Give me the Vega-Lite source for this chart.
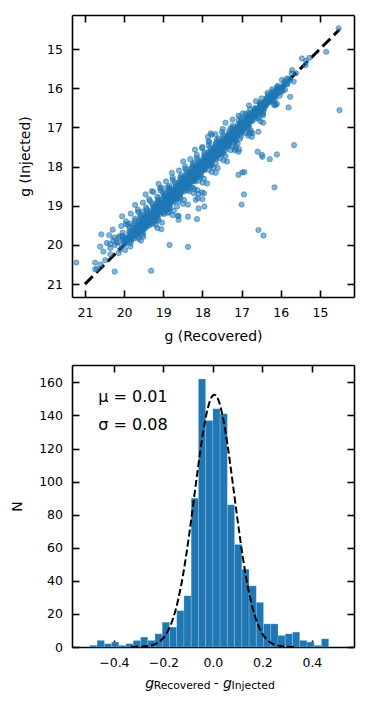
{
"$schema": "https://vega.github.io/schema/vega-lite/v6.json",
"background": "white",
"padding": {"left": 10, "top": 14, "right": 14, "bottom": 5},
"spacing": 20,
"config": {
  "font": "DejaVu Sans",
  "view": {"stroke": null},
  "axis": {"grid": false, "domainColor": "black", "domainWidth": 1.6, "tickColor": "black", "tickWidth": 1.6, "tickSize": -7, "labelFontSize": 12.5, "labelColor": "black", "titleFontSize": 14, "titleFontWeight": "normal", "titleColor": "black"},
  "axisX": {"labelPadding": 16, "titlePadding": 11},
  "axisY": {"labelPadding": 16.5, "titlePadding": 14}
},
"datasets": {
"sc": [
{"r":15.78,"i":15.76},{"r":15.76,"i":15.79},{"r":15.89,"i":15.81},{"r":15.83,"i":15.84},{"r":15.90,"i":15.86},{"r":15.83,"i":15.89},{"r":15.93,"i":15.91},{"r":16.07,"i":15.94},{"r":15.94,"i":15.96},{"r":15.99,"i":15.99},
{"r":16.08,"i":16.01},{"r":15.97,"i":16.02},{"r":16.05,"i":16.04},{"r":15.95,"i":16.05},{"r":16.11,"i":16.07},{"r":16.21,"i":16.08},{"r":16.08,"i":16.10},{"r":16.03,"i":16.11},{"r":16.34,"i":16.12},{"r":16.19,"i":16.14},{"r":16.11,"i":16.15},{"r":16.19,"i":16.17},{"r":16.26,"i":16.18},{"r":16.03,"i":16.19},{"r":16.20,"i":16.21},{"r":16.25,"i":16.22},{"r":16.34,"i":16.23},{"r":16.18,"i":16.24},
{"r":16.25,"i":16.25},{"r":16.49,"i":16.26},{"r":16.23,"i":16.27},{"r":16.35,"i":16.28},{"r":16.15,"i":16.29},{"r":16.31,"i":16.30},{"r":16.23,"i":16.31},{"r":16.37,"i":16.32},{"r":16.63,"i":16.33},{"r":16.32,"i":16.34},{"r":16.43,"i":16.35},{"r":16.30,"i":16.36},{"r":16.54,"i":16.37},{"r":16.40,"i":16.38},{"r":16.16,"i":16.39},{"r":16.39,"i":16.40},{"r":16.52,"i":16.41},{"r":16.46,"i":16.42},{"r":16.13,"i":16.43},{"r":16.81,"i":16.44},{"r":16.40,"i":16.45},{"r":16.53,"i":16.46},{"r":16.49,"i":16.47},{"r":16.44,"i":16.49},
{"r":16.65,"i":16.50},{"r":16.49,"i":16.51},{"r":16.60,"i":16.52},{"r":16.42,"i":16.53},{"r":16.59,"i":16.54},{"r":16.78,"i":16.54},{"r":16.50,"i":16.55},{"r":16.56,"i":16.56},{"r":16.68,"i":16.57},{"r":16.50,"i":16.58},{"r":16.61,"i":16.59},{"r":16.45,"i":16.60},{"r":16.67,"i":16.61},{"r":16.82,"i":16.62},{"r":16.59,"i":16.62},{"r":16.51,"i":16.63},{"r":16.97,"i":16.64},{"r":16.73,"i":16.65},{"r":16.60,"i":16.66},{"r":16.70,"i":16.67},{"r":16.80,"i":16.68},{"r":16.45,"i":16.69},{"r":16.68,"i":16.70},{"r":16.75,"i":16.70},{"r":16.88,"i":16.71},{"r":16.63,"i":16.72},{"r":16.73,"i":16.73},{"r":17.03,"i":16.74},
{"r":16.70,"i":16.75},{"r":16.86,"i":16.76},{"r":16.57,"i":16.77},{"r":16.79,"i":16.77},{"r":16.66,"i":16.78},{"r":16.86,"i":16.79},{"r":17.23,"i":16.80},{"r":16.77,"i":16.80},{"r":16.93,"i":16.81},{"r":16.73,"i":16.82},{"r":17.07,"i":16.83},{"r":16.87,"i":16.84},{"r":16.52,"i":16.84},{"r":16.83,"i":16.85},{"r":17.01,"i":16.86},{"r":16.92,"i":16.87},{"r":16.45,"i":16.88},{"r":17.41,"i":16.88},{"r":16.82,"i":16.89},{"r":17.00,"i":16.90},{"r":16.94,"i":16.91},{"r":16.84,"i":16.91},{"r":17.09,"i":16.92},{"r":16.91,"i":16.93},{"r":17.03,"i":16.94},{"r":16.83,"i":16.95},{"r":17.00,"i":16.95},{"r":17.23,"i":16.96},{"r":16.92,"i":16.97},{"r":16.98,"i":16.98},{"r":17.10,"i":16.98},{"r":16.90,"i":16.99},
{"r":17.02,"i":17.00},{"r":16.81,"i":17.01},{"r":17.09,"i":17.01},{"r":17.28,"i":17.02},{"r":16.99,"i":17.03},{"r":16.87,"i":17.03},{"r":17.48,"i":17.04},{"r":17.15,"i":17.05},{"r":16.98,"i":17.06},{"r":17.10,"i":17.06},{"r":17.23,"i":17.07},{"r":16.76,"i":17.08},{"r":17.06,"i":17.08},{"r":17.15,"i":17.09},{"r":17.32,"i":17.10},{"r":16.98,"i":17.10},{"r":17.11,"i":17.11},{"r":17.50,"i":17.12},{"r":17.06,"i":17.12},{"r":17.25,"i":17.13},{"r":16.90,"i":17.14},{"r":17.17,"i":17.15},{"r":17.01,"i":17.15},{"r":17.24,"i":17.16},{"r":17.67,"i":17.17},{"r":17.13,"i":17.17},{"r":17.32,"i":17.18},{"r":17.09,"i":17.19},{"r":17.47,"i":17.19},{"r":17.24,"i":17.20},{"r":16.83,"i":17.21},{"r":17.19,"i":17.21},{"r":17.40,"i":17.22},{"r":17.29,"i":17.23},{"r":16.74,"i":17.24},{"r":17.86,"i":17.24},
{"r":17.17,"i":17.25},{"r":17.38,"i":17.26},{"r":17.30,"i":17.26},{"r":17.19,"i":17.27},{"r":17.48,"i":17.28},{"r":17.26,"i":17.28},{"r":17.39,"i":17.29},{"r":17.16,"i":17.30},{"r":17.36,"i":17.30},{"r":17.63,"i":17.31},{"r":17.26,"i":17.32},{"r":17.32,"i":17.32},{"r":17.47,"i":17.33},{"r":17.24,"i":17.34},{"r":17.36,"i":17.34},{"r":17.15,"i":17.35},{"r":17.44,"i":17.36},{"r":17.62,"i":17.36},{"r":17.33,"i":17.37},{"r":17.22,"i":17.38},{"r":17.82,"i":17.38},{"r":17.49,"i":17.39},{"r":17.32,"i":17.40},{"r":17.44,"i":17.40},{"r":17.57,"i":17.41},{"r":17.10,"i":17.42},{"r":17.40,"i":17.42},{"r":17.49,"i":17.43},{"r":17.66,"i":17.44},{"r":17.32,"i":17.44},{"r":17.45,"i":17.45},{"r":17.84,"i":17.46},{"r":17.40,"i":17.46},{"r":17.59,"i":17.47},{"r":17.24,"i":17.48},{"r":17.50,"i":17.48},{"r":17.35,"i":17.49},{"r":17.57,"i":17.49},
{"r":18.00,"i":17.50},{"r":17.47,"i":17.51},{"r":17.65,"i":17.51},{"r":17.42,"i":17.52},{"r":17.80,"i":17.52},{"r":17.57,"i":17.53},{"r":17.16,"i":17.54},{"r":17.52,"i":17.54},{"r":17.73,"i":17.55},{"r":17.62,"i":17.56},{"r":17.06,"i":17.56},{"r":18.19,"i":17.57},{"r":17.49,"i":17.57},{"r":17.70,"i":17.58},{"r":17.63,"i":17.59},{"r":17.51,"i":17.59},{"r":17.80,"i":17.60},{"r":17.59,"i":17.61},{"r":17.71,"i":17.61},{"r":17.48,"i":17.62},{"r":17.68,"i":17.62},{"r":17.95,"i":17.63},{"r":17.58,"i":17.64},{"r":17.64,"i":17.64},{"r":17.79,"i":17.65},{"r":17.56,"i":17.66},{"r":17.68,"i":17.66},{"r":17.47,"i":17.67},{"r":17.75,"i":17.67},{"r":17.94,"i":17.68},{"r":17.65,"i":17.69},{"r":17.53,"i":17.69},{"r":18.14,"i":17.70},{"r":17.81,"i":17.71},{"r":17.63,"i":17.71},{"r":17.76,"i":17.72},{"r":17.88,"i":17.72},{"r":17.41,"i":17.73},{"r":17.72,"i":17.74},{"r":17.80,"i":17.74},
{"r":17.97,"i":17.75},{"r":17.64,"i":17.76},{"r":17.76,"i":17.76},{"r":18.15,"i":17.77},{"r":17.71,"i":17.77},{"r":17.90,"i":17.78},{"r":17.55,"i":17.79},{"r":17.81,"i":17.79},{"r":17.66,"i":17.80},{"r":17.88,"i":17.80},{"r":18.31,"i":17.81},{"r":17.77,"i":17.81},{"r":17.96,"i":17.82},{"r":17.73,"i":17.83},{"r":18.11,"i":17.83},{"r":17.88,"i":17.84},{"r":17.46,"i":17.84},{"r":17.83,"i":17.85},{"r":18.04,"i":17.86},{"r":17.92,"i":17.86},{"r":17.37,"i":17.87},{"r":18.49,"i":17.87},{"r":17.80,"i":17.88},{"r":18.01,"i":17.89},{"r":17.93,"i":17.89},{"r":17.82,"i":17.90},{"r":18.10,"i":17.90},{"r":17.89,"i":17.91},{"r":18.01,"i":17.91},{"r":17.78,"i":17.92},{"r":17.99,"i":17.93},{"r":18.25,"i":17.93},{"r":17.88,"i":17.94},{"r":17.94,"i":17.94},{"r":18.09,"i":17.95},{"r":17.86,"i":17.96},{"r":17.98,"i":17.96},{"r":17.77,"i":17.97},{"r":18.05,"i":17.97},{"r":18.24,"i":17.98},{"r":17.94,"i":17.98},{"r":17.83,"i":17.99},
{"r":18.44,"i":18.00},{"r":18.11,"i":18.01},{"r":17.93,"i":18.01},{"r":18.06,"i":18.02},{"r":18.18,"i":18.02},{"r":17.71,"i":18.03},{"r":18.01,"i":18.03},{"r":18.10,"i":18.04},{"r":18.27,"i":18.05},{"r":17.93,"i":18.05},{"r":18.06,"i":18.06},{"r":18.44,"i":18.06},{"r":18.01,"i":18.07},{"r":18.19,"i":18.07},{"r":17.84,"i":18.08},{"r":18.11,"i":18.09},{"r":17.95,"i":18.09},{"r":18.18,"i":18.10},{"r":18.60,"i":18.10},{"r":18.07,"i":18.11},{"r":18.25,"i":18.11},{"r":18.02,"i":18.12},{"r":18.41,"i":18.13},{"r":18.17,"i":18.13},{"r":17.76,"i":18.14},{"r":18.12,"i":18.14},{"r":18.33,"i":18.15},{"r":18.21,"i":18.15},{"r":17.66,"i":18.16},{"r":18.78,"i":18.16},{"r":18.09,"i":18.17},{"r":18.30,"i":18.18},{"r":18.22,"i":18.18},{"r":18.11,"i":18.19},{"r":18.39,"i":18.19},{"r":18.18,"i":18.20},{"r":18.30,"i":18.20},{"r":18.07,"i":18.21},{"r":18.28,"i":18.22},{"r":18.54,"i":18.22},{"r":18.17,"i":18.23},{"r":18.23,"i":18.23},{"r":18.38,"i":18.24},{"r":18.14,"i":18.24},
{"r":18.27,"i":18.25},{"r":18.04,"i":18.26},{"r":18.35,"i":18.26},{"r":18.56,"i":18.27},{"r":18.23,"i":18.27},{"r":18.10,"i":18.28},{"r":18.76,"i":18.28},{"r":18.40,"i":18.29},{"r":18.20,"i":18.29},{"r":18.34,"i":18.30},{"r":18.48,"i":18.30},{"r":17.96,"i":18.31},{"r":18.29,"i":18.31},{"r":18.39,"i":18.32},{"r":18.57,"i":18.33},{"r":18.20,"i":18.33},{"r":18.34,"i":18.34},{"r":18.76,"i":18.34},{"r":18.28,"i":18.35},{"r":18.48,"i":18.35},{"r":18.10,"i":18.36},{"r":18.38,"i":18.36},{"r":18.22,"i":18.37},{"r":18.46,"i":18.37},{"r":18.93,"i":18.38},{"r":18.34,"i":18.38},{"r":18.54,"i":18.39},{"r":18.28,"i":18.39},{"r":18.71,"i":18.40},{"r":18.44,"i":18.40},{"r":17.99,"i":18.41},{"r":18.40,"i":18.42},{"r":18.62,"i":18.42},{"r":18.50,"i":18.43},{"r":17.88,"i":18.43},{"r":19.12,"i":18.44},{"r":18.35,"i":18.44},{"r":18.58,"i":18.45},{"r":18.49,"i":18.45},{"r":18.37,"i":18.46},{"r":18.68,"i":18.46},{"r":18.45,"i":18.47},{"r":18.58,"i":18.47},{"r":18.33,"i":18.48},{"r":18.55,"i":18.48},{"r":18.84,"i":18.49},
{"r":18.43,"i":18.50},{"r":18.51,"i":18.51},{"r":18.68,"i":18.51},{"r":18.40,"i":18.52},{"r":18.54,"i":18.52},{"r":18.29,"i":18.53},{"r":18.63,"i":18.53},{"r":18.85,"i":18.54},{"r":18.49,"i":18.54},{"r":18.36,"i":18.55},{"r":19.08,"i":18.55},{"r":18.68,"i":18.56},{"r":18.46,"i":18.56},{"r":18.62,"i":18.57},{"r":18.77,"i":18.58},{"r":18.20,"i":18.58},{"r":18.57,"i":18.59},{"r":18.66,"i":18.59},{"r":18.86,"i":18.60},{"r":18.46,"i":18.60},{"r":18.61,"i":18.61},{"r":19.07,"i":18.61},{"r":18.55,"i":18.62},{"r":18.76,"i":18.62},{"r":18.34,"i":18.63},{"r":18.65,"i":18.63},{"r":18.47,"i":18.64},{"r":18.74,"i":18.64},{"r":19.25,"i":18.65},{"r":18.60,"i":18.65},{"r":18.83,"i":18.66},{"r":18.55,"i":18.67},{"r":19.01,"i":18.67},{"r":18.73,"i":18.68},{"r":18.22,"i":18.68},{"r":18.67,"i":18.69},{"r":18.91,"i":18.69},{"r":18.77,"i":18.70},{"r":18.10,"i":18.70},{"r":19.45,"i":18.71},{"r":18.61,"i":18.71},{"r":18.86,"i":18.72},{"r":18.77,"i":18.72},{"r":18.63,"i":18.73},{"r":18.97,"i":18.73},{"r":18.72,"i":18.74},
{"r":18.87,"i":18.75},{"r":18.59,"i":18.76},{"r":18.83,"i":18.76},{"r":19.15,"i":18.77},{"r":18.70,"i":18.77},{"r":18.78,"i":18.78},{"r":18.95,"i":18.78},{"r":18.67,"i":18.79},{"r":18.81,"i":18.79},{"r":18.56,"i":18.80},{"r":18.90,"i":18.80},{"r":19.12,"i":18.81},{"r":18.76,"i":18.81},{"r":18.63,"i":18.82},{"r":19.36,"i":18.83},{"r":18.95,"i":18.83},{"r":18.74,"i":18.84},{"r":18.89,"i":18.84},{"r":19.04,"i":18.85},{"r":18.47,"i":18.85},{"r":18.84,"i":18.86},{"r":18.93,"i":18.86},{"r":19.13,"i":18.87},{"r":18.73,"i":18.87},{"r":18.88,"i":18.88},{"r":19.34,"i":18.88},{"r":18.82,"i":18.89},{"r":19.03,"i":18.89},{"r":18.61,"i":18.90},{"r":18.92,"i":18.90},{"r":18.74,"i":18.91},{"r":19.02,"i":18.92},{"r":19.52,"i":18.92},{"r":18.88,"i":18.93},{"r":19.10,"i":18.93},{"r":18.82,"i":18.94},{"r":19.28,"i":18.94},{"r":19.00,"i":18.95},{"r":18.49,"i":18.95},{"r":18.94,"i":18.96},{"r":19.18,"i":18.96},{"r":19.04,"i":18.97},{"r":18.37,"i":18.97},{"r":19.72,"i":18.98},{"r":18.88,"i":18.98},{"r":19.13,"i":18.99},
{"r":19.05,"i":19.00},{"r":18.91,"i":19.01},{"r":19.26,"i":19.01},{"r":18.99,"i":19.02},{"r":19.15,"i":19.02},{"r":18.85,"i":19.03},{"r":19.11,"i":19.03},{"r":19.44,"i":19.04},{"r":18.97,"i":19.05},{"r":19.05,"i":19.05},{"r":19.24,"i":19.06},{"r":18.93,"i":19.06},{"r":19.10,"i":19.07},{"r":18.82,"i":19.07},{"r":19.18,"i":19.08},{"r":19.42,"i":19.09},{"r":19.04,"i":19.09},{"r":18.90,"i":19.10},{"r":19.65,"i":19.10},{"r":19.24,"i":19.11},{"r":19.01,"i":19.11},{"r":19.17,"i":19.12},{"r":19.33,"i":19.13},{"r":18.73,"i":19.13},{"r":19.11,"i":19.14},{"r":19.22,"i":19.14},{"r":19.43,"i":19.15},{"r":19.00,"i":19.15},{"r":19.16,"i":19.16},{"r":19.64,"i":19.16},{"r":19.09,"i":19.17},{"r":19.33,"i":19.18},{"r":18.88,"i":19.18},{"r":19.22,"i":19.19},{"r":19.01,"i":19.19},{"r":19.30,"i":19.20},{"r":19.83,"i":19.20},{"r":19.16,"i":19.21},{"r":19.40,"i":19.22},{"r":19.09,"i":19.22},{"r":19.58,"i":19.23},{"r":19.28,"i":19.23},{"r":18.76,"i":19.24},{"r":19.21,"i":19.24},
{"r":19.48,"i":19.25},{"r":19.34,"i":19.26},{"r":18.63,"i":19.26},{"r":20.05,"i":19.27},{"r":19.17,"i":19.27},{"r":19.43,"i":19.28},{"r":19.34,"i":19.29},{"r":19.19,"i":19.29},{"r":19.55,"i":19.30},{"r":19.28,"i":19.31},{"r":19.44,"i":19.31},{"r":19.14,"i":19.32},{"r":19.40,"i":19.32},{"r":19.73,"i":19.33},{"r":19.26,"i":19.34},{"r":19.34,"i":19.34},{"r":19.53,"i":19.35},{"r":19.23,"i":19.36},{"r":19.39,"i":19.36},{"r":19.12,"i":19.37},{"r":19.47,"i":19.37},{"r":19.71,"i":19.38},{"r":19.34,"i":19.39},{"r":19.19,"i":19.39},{"r":19.95,"i":19.40},{"r":19.54,"i":19.41},{"r":19.31,"i":19.41},{"r":19.47,"i":19.42},{"r":19.62,"i":19.42},{"r":19.03,"i":19.43},{"r":19.41,"i":19.44},{"r":19.52,"i":19.44},{"r":19.73,"i":19.45},{"r":19.31,"i":19.46},{"r":19.46,"i":19.46},{"r":19.95,"i":19.47},{"r":19.39,"i":19.47},{"r":19.63,"i":19.48},{"r":19.19,"i":19.49},{"r":19.52,"i":19.49},
{"r":19.35,"i":19.50},{"r":19.60,"i":19.51},{"r":20.07,"i":19.52},{"r":19.48,"i":19.52},{"r":19.68,"i":19.53},{"r":19.43,"i":19.54},{"r":19.86,"i":19.55},{"r":19.60,"i":19.56},{"r":19.15,"i":19.57},{"r":19.55,"i":19.57},{"r":19.78,"i":19.58},{"r":19.66,"i":19.59},{"r":19.05,"i":19.60},{"r":20.29,"i":19.61},{"r":19.53,"i":19.62},{"r":19.75,"i":19.62},{"r":19.67,"i":19.63},{"r":19.55,"i":19.64},{"r":19.87,"i":19.65},{"r":19.64,"i":19.66},{"r":19.78,"i":19.67},{"r":19.52,"i":19.67},{"r":19.75,"i":19.68},{"r":20.04,"i":19.69},{"r":19.63,"i":19.70},{"r":19.71,"i":19.71},{"r":19.87,"i":19.72},{"r":19.61,"i":19.72},{"r":19.75,"i":19.73},{"r":19.52,"i":19.74},
{"r":19.83,"i":19.75},{"r":20.03,"i":19.77},{"r":19.74,"i":19.78},{"r":19.64,"i":19.80},{"r":20.25,"i":19.81},{"r":19.93,"i":19.83},{"r":19.76,"i":19.84},{"r":19.90,"i":19.86},{"r":20.03,"i":19.87},{"r":19.57,"i":19.89},{"r":19.89,"i":19.91},{"r":19.98,"i":19.92},{"r":20.16,"i":19.94},{"r":19.83,"i":19.95},{"r":19.97,"i":19.97},{"r":20.36,"i":19.98},
{"r":16.04,"i":16.00},{"r":15.99,"i":16.01},{"r":16.22,"i":16.03},{"r":15.89,"i":16.04},{"r":16.07,"i":16.05},{"r":16.11,"i":16.06},{"r":16.07,"i":16.08},{"r":15.98,"i":16.09},{"r":16.11,"i":16.10},{"r":16.19,"i":16.11},{"r":16.10,"i":16.13},{"r":16.18,"i":16.14},{"r":16.14,"i":16.15},{"r":16.31,"i":16.16},{"r":16.20,"i":16.18},{"r":16.15,"i":16.19},{"r":16.21,"i":16.20},{"r":16.14,"i":16.21},{"r":16.27,"i":16.23},{"r":16.22,"i":16.24},{"r":16.36,"i":16.25},{"r":16.26,"i":16.26},{"r":16.24,"i":16.28},{"r":16.36,"i":16.29},{"r":16.32,"i":16.30},{"r":16.30,"i":16.31},{"r":16.23,"i":16.33},{"r":16.39,"i":16.34},{"r":16.36,"i":16.35},{"r":16.34,"i":16.36},{"r":16.41,"i":16.38},{"r":16.52,"i":16.39},{"r":16.35,"i":16.40},{"r":16.40,"i":16.41},{"r":16.51,"i":16.43},{"r":16.46,"i":16.44},{"r":16.39,"i":16.45},{"r":16.47,"i":16.46},{"r":16.45,"i":16.48},{"r":16.53,"i":16.49},
{"r":16.50,"i":16.50},{"r":16.49,"i":16.51},{"r":16.66,"i":16.53},{"r":16.56,"i":16.54},{"r":16.49,"i":16.55},{"r":16.60,"i":16.56},{"r":16.57,"i":16.58},{"r":16.67,"i":16.59},{"r":16.57,"i":16.60},{"r":16.63,"i":16.61},{"r":16.68,"i":16.63},{"r":16.61,"i":16.64},{"r":16.90,"i":16.65},{"r":16.46,"i":16.66},{"r":16.70,"i":16.68},{"r":16.76,"i":16.69},{"r":16.69,"i":16.70},{"r":16.56,"i":16.71},{"r":16.75,"i":16.73},{"r":16.85,"i":16.74},{"r":16.71,"i":16.75},{"r":16.82,"i":16.76},{"r":16.76,"i":16.78},{"r":16.99,"i":16.79},{"r":16.83,"i":16.80},{"r":16.75,"i":16.81},{"r":16.84,"i":16.83},{"r":16.74,"i":16.84},{"r":16.90,"i":16.85},{"r":16.84,"i":16.86},{"r":17.03,"i":16.88},{"r":16.89,"i":16.89},{"r":16.85,"i":16.90},{"r":17.00,"i":16.91},{"r":16.95,"i":16.93},{"r":16.93,"i":16.94},{"r":16.82,"i":16.95},{"r":17.02,"i":16.96},{"r":17.00,"i":16.98},{"r":16.96,"i":16.99},
{"r":17.05,"i":17.00},{"r":17.23,"i":17.01},{"r":16.95,"i":17.03},{"r":17.02,"i":17.04},{"r":17.18,"i":17.05},{"r":17.10,"i":17.06},{"r":16.98,"i":17.08},{"r":17.10,"i":17.09},{"r":17.05,"i":17.10},{"r":17.18,"i":17.11},{"r":17.13,"i":17.13},{"r":17.11,"i":17.14},{"r":17.31,"i":17.15},{"r":17.19,"i":17.16},{"r":17.11,"i":17.18},{"r":17.24,"i":17.19},{"r":17.19,"i":17.20},{"r":17.31,"i":17.21},{"r":17.19,"i":17.23},{"r":17.26,"i":17.24},{"r":17.31,"i":17.25},{"r":17.22,"i":17.26},{"r":17.59,"i":17.28},{"r":17.04,"i":17.29},{"r":17.33,"i":17.30},{"r":17.40,"i":17.31},{"r":17.32,"i":17.33},{"r":17.15,"i":17.34},{"r":17.37,"i":17.35},{"r":17.50,"i":17.36},{"r":17.33,"i":17.38},{"r":17.46,"i":17.39},{"r":17.38,"i":17.40},{"r":17.66,"i":17.41},{"r":17.47,"i":17.43},{"r":17.37,"i":17.44},{"r":17.46,"i":17.45},{"r":17.34,"i":17.46},{"r":17.54,"i":17.48},{"r":17.46,"i":17.49},
{"r":17.69,"i":17.50},{"r":17.51,"i":17.51},{"r":17.47,"i":17.53},{"r":17.65,"i":17.54},{"r":17.58,"i":17.55},{"r":17.55,"i":17.56},{"r":17.42,"i":17.58},{"r":17.67,"i":17.59},{"r":17.62,"i":17.60},{"r":17.57,"i":17.61},{"r":17.68,"i":17.63},{"r":17.86,"i":17.64},{"r":17.57,"i":17.65},{"r":17.64,"i":17.66},{"r":17.81,"i":17.68},{"r":17.73,"i":17.69},{"r":17.60,"i":17.70},{"r":17.72,"i":17.71},{"r":17.68,"i":17.73},{"r":17.81,"i":17.74},{"r":17.75,"i":17.75},{"r":17.73,"i":17.76},{"r":17.94,"i":17.78},{"r":17.82,"i":17.79},{"r":17.73,"i":17.80},{"r":17.86,"i":17.81},{"r":17.82,"i":17.83},{"r":17.94,"i":17.84},{"r":17.81,"i":17.85},{"r":17.88,"i":17.86},{"r":17.94,"i":17.88},{"r":17.85,"i":17.89},{"r":18.21,"i":17.90},{"r":17.66,"i":17.91},{"r":17.96,"i":17.93},{"r":18.03,"i":17.94},{"r":17.94,"i":17.95},{"r":17.77,"i":17.96},{"r":18.00,"i":17.98},{"r":18.13,"i":17.99},
{"r":17.95,"i":18.00},{"r":18.08,"i":18.01},{"r":18.01,"i":18.03},{"r":18.29,"i":18.04},{"r":18.09,"i":18.05},{"r":17.99,"i":18.06},{"r":18.09,"i":18.08},{"r":17.97,"i":18.09},{"r":18.16,"i":18.10},{"r":18.08,"i":18.11},{"r":18.32,"i":18.13},{"r":18.14,"i":18.14},{"r":18.09,"i":18.15},{"r":18.27,"i":18.16},{"r":18.21,"i":18.18},{"r":18.18,"i":18.19},{"r":18.04,"i":18.20},{"r":18.29,"i":18.21},{"r":18.25,"i":18.23},{"r":18.20,"i":18.24},{"r":18.30,"i":18.25},{"r":18.48,"i":18.26},{"r":18.20,"i":18.28},{"r":18.27,"i":18.29},{"r":18.43,"i":18.30},{"r":18.35,"i":18.31},{"r":18.23,"i":18.33},{"r":18.35,"i":18.34},{"r":18.30,"i":18.35},{"r":18.43,"i":18.36},{"r":18.38,"i":18.38},{"r":18.36,"i":18.39},{"r":18.56,"i":18.40},{"r":18.44,"i":18.41},{"r":18.36,"i":18.43},{"r":18.49,"i":18.44},{"r":18.44,"i":18.45},{"r":18.56,"i":18.46},{"r":18.44,"i":18.48},{"r":18.51,"i":18.49},
{"r":18.57,"i":18.50},{"r":18.46,"i":18.51},{"r":18.90,"i":18.53},{"r":18.24,"i":18.54},{"r":18.59,"i":18.55},{"r":18.67,"i":18.56},{"r":18.57,"i":18.58},{"r":18.36,"i":18.59},{"r":18.62,"i":18.60},{"r":18.78,"i":18.61},{"r":18.57,"i":18.63},{"r":18.72,"i":18.64},{"r":18.63,"i":18.65},{"r":18.96,"i":18.66},{"r":18.73,"i":18.68},{"r":18.61,"i":18.69},{"r":18.71,"i":18.70},{"r":18.57,"i":18.71},{"r":18.80,"i":18.73},{"r":18.70,"i":18.74},{"r":18.98,"i":18.75},{"r":18.76,"i":18.76},{"r":18.71,"i":18.78},{"r":18.92,"i":18.79},{"r":18.84,"i":18.80},{"r":18.80,"i":18.81},{"r":18.64,"i":18.83},{"r":18.94,"i":18.84},{"r":18.87,"i":18.85},{"r":18.81,"i":18.86},{"r":18.94,"i":18.88},{"r":19.15,"i":18.89},{"r":18.80,"i":18.90},{"r":18.89,"i":18.91},{"r":19.09,"i":18.93},{"r":18.99,"i":18.94},{"r":18.83,"i":18.95},{"r":18.97,"i":18.96},{"r":18.92,"i":18.98},{"r":19.07,"i":18.99},
{"r":19.00,"i":19.00},{"r":18.97,"i":19.01},{"r":19.22,"i":19.03},{"r":19.08,"i":19.04},{"r":18.97,"i":19.05},{"r":19.12,"i":19.06},{"r":19.07,"i":19.08},{"r":19.21,"i":19.09},{"r":19.05,"i":19.10},{"r":19.13,"i":19.11},{"r":19.20,"i":19.13},{"r":19.09,"i":19.14},{"r":19.52,"i":19.15},{"r":18.86,"i":19.16},{"r":19.22,"i":19.18},{"r":19.30,"i":19.19},{"r":19.19,"i":19.20},{"r":18.98,"i":19.21},{"r":19.25,"i":19.23},{"r":19.41,"i":19.24},{"r":19.19,"i":19.25},{"r":19.34,"i":19.26},{"r":19.26,"i":19.28},{"r":19.59,"i":19.29},{"r":19.35,"i":19.30},{"r":19.23,"i":19.31},{"r":19.34,"i":19.33},{"r":19.20,"i":19.34},{"r":19.42,"i":19.35},{"r":19.32,"i":19.36},{"r":19.61,"i":19.38},{"r":19.39,"i":19.39},{"r":19.33,"i":19.40},{"r":19.54,"i":19.41},{"r":19.47,"i":19.43},{"r":19.43,"i":19.44},{"r":19.26,"i":19.45},{"r":19.56,"i":19.46},{"r":19.50,"i":19.48},{"r":19.44,"i":19.49},
{"r":19.56,"i":19.50},{"r":19.75,"i":19.51},{"r":19.44,"i":19.53},{"r":19.52,"i":19.54},{"r":19.69,"i":19.55},{"r":19.60,"i":19.56},{"r":19.47,"i":19.58},{"r":19.60,"i":19.59},{"r":19.54,"i":19.60},{"r":19.69,"i":19.61},{"r":19.63,"i":19.63},{"r":19.61,"i":19.64},{"r":19.83,"i":19.65},{"r":19.69,"i":19.66},{"r":19.60,"i":19.68},{"r":19.75,"i":19.69},{"r":19.69,"i":19.70},{"r":19.82,"i":19.71},{"r":19.69,"i":19.73},{"r":19.76,"i":19.74},{"r":19.82,"i":19.75},{"r":19.72,"i":19.76},{"r":20.12,"i":19.78},{"r":19.51,"i":19.79},{"r":19.83,"i":19.80},{"r":19.91,"i":19.81},{"r":19.82,"i":19.83},{"r":19.63,"i":19.84},{"r":19.87,"i":19.85},{"r":20.01,"i":19.86},{"r":19.82,"i":19.88},{"r":19.97,"i":19.89},
{"r":14.52,"i":14.47},{"r":14.84,"i":15.07},{"r":15.46,"i":15.24},{"r":15.27,"i":15.22},{"r":15.37,"i":15.41},{"r":15.35,"i":15.30},{"r":15.71,"i":15.54},{"r":15.72,"i":15.62},{"r":15.61,"i":15.62},{"r":15.67,"i":15.83},{"r":15.84,"i":15.75},{"r":15.97,"i":15.79},{"r":15.85,"i":15.90},{"r":15.76,"i":16.22},{"r":15.80,"i":16.49},{"r":14.50,"i":16.56},{"r":16.10,"i":15.96},{"r":16.08,"i":16.03},{"r":15.66,"i":17.45},{"r":16.59,"i":17.62},{"r":16.57,"i":17.11},{"r":16.10,"i":17.69},{"r":17.08,"i":17.62},{"r":17.17,"i":17.58},{"r":16.72,"i":17.15},{"r":17.02,"i":17.23},{"r":16.77,"i":17.13},{"r":17.08,"i":16.70},{"r":16.17,"i":16.43},{"r":16.10,"i":16.40},{"r":16.47,"i":17.75},{"r":16.28,"i":17.81},{"r":16.16,"i":18.53},{"r":16.94,"i":18.71},{"r":17.00,"i":18.97},{"r":16.98,"i":18.15},{"r":17.08,"i":18.21},{"r":16.93,"i":18.14},{"r":17.61,"i":18.04},{"r":17.28,"i":17.58},{"r":17.15,"i":17.49},{"r":16.81,"i":17.15},{"r":16.48,"i":17.70},{"r":16.57,"i":19.62},{"r":16.44,"i":19.76},{"r":17.76,"i":17.19},{"r":17.84,"i":17.35},{"r":18.01,"i":17.53},{"r":17.79,"i":17.15},{"r":18.13,"i":18.60},{"r":17.96,"i":18.68},{"r":18.17,"i":18.85},{"r":18.00,"i":18.83},{"r":18.65,"i":19.02},{"r":18.86,"i":19.07},{"r":18.61,"i":19.26},{"r":18.61,"i":19.36},{"r":18.37,"i":19.28},{"r":18.14,"i":19.34},{"r":18.10,"i":19.07},{"r":17.95,"i":19.02},{"r":18.01,"i":18.66},{"r":18.12,"i":18.81},{"r":18.19,"i":18.38},{"r":19.29,"i":18.63},{"r":19.05,"i":18.54},{"r":18.84,"i":20.00},{"r":18.37,"i":20.05},{"r":19.31,"i":20.66},{"r":20.24,"i":20.68},{"r":21.22,"i":20.45},{"r":20.58,"i":19.73},{"r":20.38,"i":19.75},{"r":20.61,"i":20.04},{"r":20.53,"i":20.17},{"r":20.74,"i":20.45},{"r":20.69,"i":20.61},{"r":20.60,"i":20.50},{"r":20.48,"i":20.39},{"r":20.35,"i":20.24},{"r":20.14,"i":20.21},{"r":20.23,"i":20.00},{"r":20.06,"i":20.00},{"r":20.14,"i":19.81},{"r":20.03,"i":19.79},{"r":19.97,"i":20.13},{"r":19.84,"i":20.04},{"r":19.84,"i":19.80},{"r":19.80,"i":19.73},{"r":19.90,"i":19.49},{"r":19.85,"i":19.45},{"r":20.44,"i":19.95},{"r":20.35,"i":20.08},{"r":20.20,"i":19.93},{"r":20.10,"i":20.12},{"r":20.28,"i":19.88},{"r":20.74,"i":20.62}
],
"hist": [
{"lo":-0.4970,"hi":-0.4678,"n":1},{"lo":-0.4678,"hi":-0.4385,"n":4},{"lo":-0.4385,"hi":-0.4093,"n":2},{"lo":-0.4093,"hi":-0.3800,"n":3},{"lo":-0.3800,"hi":-0.3508,"n":1},{"lo":-0.3508,"hi":-0.3216,"n":2},{"lo":-0.3216,"hi":-0.2923,"n":4},{"lo":-0.2923,"hi":-0.2631,"n":6},{"lo":-0.2631,"hi":-0.2338,"n":4},{"lo":-0.2338,"hi":-0.2046,"n":8},{"lo":-0.2046,"hi":-0.1754,"n":15},{"lo":-0.1754,"hi":-0.1461,"n":12},{"lo":-0.1461,"hi":-0.1169,"n":22},{"lo":-0.1169,"hi":-0.0876,"n":31},{"lo":-0.0876,"hi":-0.0584,"n":90},{"lo":-0.0584,"hi":-0.0292,"n":162},{"lo":-0.0292,"hi":0.0000,"n":137},{"lo":0.0000,"hi":0.0292,"n":144},{"lo":0.0292,"hi":0.0585,"n":141},{"lo":0.0585,"hi":0.0877,"n":86},{"lo":0.0877,"hi":0.1170,"n":62},{"lo":0.1170,"hi":0.1462,"n":47},{"lo":0.1462,"hi":0.1754,"n":37},{"lo":0.1754,"hi":0.2047,"n":27},{"lo":0.2047,"hi":0.2339,"n":14},{"lo":0.2339,"hi":0.2632,"n":14},{"lo":0.2632,"hi":0.2924,"n":7},{"lo":0.2924,"hi":0.3216,"n":8},{"lo":0.3216,"hi":0.3509,"n":9},{"lo":0.3509,"hi":0.3801,"n":4},{"lo":0.3801,"hi":0.4094,"n":3},{"lo":0.4094,"hi":0.4386,"n":1},{"lo":0.4386,"hi":0.4679,"n":5}
],
"gauss": [
{"gx":-0.33,"gy":0.02},{"gx":-0.30,"gy":0.10},{"gx":-0.28,"gy":0.26},{"gx":-0.26,"gy":0.61},{"gx":-0.24,"gy":1.35},{"gx":-0.22,"gy":2.82},{"gx":-0.20,"gy":5.54},{"gx":-0.18,"gy":10.2},{"gx":-0.16,"gy":17.7},{"gx":-0.14,"gy":28.8},{"gx":-0.12,"gy":44.1},{"gx":-0.10,"gy":63.4},{"gx":-0.08,"gy":85.6},{"gx":-0.06,"gy":108.5},{"gx":-0.04,"gy":129.3},{"gx":-0.02,"gy":144.7},{"gx":0.00,"gy":152.1},{"gx":0.006,"gy":152.5},{"gx":0.02,"gy":150.2},{"gx":0.04,"gy":139.3},{"gx":0.06,"gy":121.4},{"gx":0.08,"gy":99.4},{"gx":0.10,"gy":76.5},{"gx":0.12,"gy":55.2},{"gx":0.14,"gy":37.5},{"gx":0.16,"gy":23.9},{"gx":0.18,"gy":14.3},{"gx":0.20,"gy":8.06},{"gx":0.22,"gy":4.26},{"gx":0.24,"gy":2.11},{"gx":0.26,"gy":0.99},{"gx":0.28,"gy":0.43},{"gx":0.30,"gy":0.18},{"gx":0.33,"gy":0.04}
]
},
"vconcat": [
{
  "width": 282, "height": 282,
  "layer": [
    {
      "data": {"values": [{"a": 21, "b": 21}, {"a": 14.5, "b": 14.5}]},
      "mark": {"type": "line", "color": "black", "strokeWidth": 3, "strokeDash": [11, 5]},
      "encoding": {
        "x": {"field": "a", "type": "quantitative", "scale": {"domain": [14.13, 21.33], "reverse": true, "nice": false, "zero": false}, "axis": {"orient": "top", "values": [15,16,17,18,19,20,21], "labels": false, "title": null}},
        "y": {"field": "b", "type": "quantitative", "scale": {"domain": [14.13, 21.33], "reverse": true, "nice": false, "zero": false}, "axis": {"orient": "right", "values": [15,16,17,18,19,20,21], "labels": false, "title": null}}
      }
    },
    {
      "data": {"name": "sc"},
      "mark": {"type": "circle", "size": 28, "fill": "#1f77b4", "stroke": "#1f77b4", "strokeWidth": 1, "fillOpacity": 0.55, "strokeOpacity": 0.55},
      "encoding": {
        "x": {"field": "r", "type": "quantitative", "scale": {"domain": [14.13, 21.33], "reverse": true, "nice": false, "zero": false}, "axis": {"orient": "bottom", "values": [15,16,17,18,19,20,21], "title": "g (Recovered)"}},
        "y": {"field": "i", "type": "quantitative", "scale": {"domain": [14.13, 21.33], "reverse": true, "nice": false, "zero": false}, "axis": {"orient": "left", "values": [15,16,17,18,19,20,21], "title": "g (Injected)"}}
      }
    }
  ],
  "resolve": {"axis": {"x": "independent", "y": "independent"}}
},
{
  "width": 282, "height": 282,
  "layer": [
    {
      "data": {"name": "hist"},
      "mark": {"type": "bar", "color": "#1f77b4", "stroke": "white", "strokeWidth": 0.5, "strokeOpacity": 0.35, "orient": "vertical"},
      "encoding": {
        "x": {"field": "lo", "type": "quantitative", "scale": {"domain": [-0.549, 0.55], "nice": false, "zero": false}, "axis": {"orient": "bottom", "values": [-0.4,-0.2,0,0.2,0.4], "format": ".1f", "title": null}},
        "x2": {"field": "hi"},
        "y": {"field": "n", "type": "quantitative", "scale": {"domain": [0, 170.5], "nice": false}, "axis": {"orient": "left", "values": [0,20,40,60,80,100,120,140,160], "title": "N"}},
        "y2": {"datum": 0}
      }
    },
    {
      "data": {"name": "gauss"},
      "mark": {"type": "line", "color": "black", "strokeWidth": 2, "strokeDash": [7, 3], "interpolate": "monotone"},
      "encoding": {
        "x": {"field": "gx", "type": "quantitative", "scale": {"domain": [-0.549, 0.55], "nice": false, "zero": false}, "axis": {"orient": "top", "values": [-0.4,-0.2,0,0.2,0.4], "labels": false, "title": null}},
        "y": {"field": "gy", "type": "quantitative", "scale": {"domain": [0, 170.5], "nice": false}, "axis": {"orient": "right", "values": [0,20,40,60,80,100,120,140,160], "labels": false, "title": null}}
      }
    },
    {
      "data": {"values": [{"t": "μ = 0.01"}]},
      "mark": {"type": "text", "align": "left", "baseline": "alphabetic", "fontSize": 16, "color": "black"},
      "encoding": {"x": {"datum": -0.4628, "axis": null}, "y": {"datum": 148, "axis": null}, "text": {"field": "t"}}
    },
    {
      "data": {"values": [{"t": "σ = 0.08"}]},
      "mark": {"type": "text", "align": "left", "baseline": "alphabetic", "fontSize": 16, "color": "black"},
      "encoding": {"x": {"datum": -0.4628, "axis": null}, "y": {"datum": 131.3, "axis": null}, "text": {"field": "t"}}
    },
    {
      "data": {"values": [{"t": "g"}]},
      "mark": {"type": "text", "align": "left", "baseline": "alphabetic", "fontSize": 14, "fontStyle": "italic", "color": "black"},
      "encoding": {"x": {"datum": -0.273, "axis": null}, "y": {"datum": -24.5, "axis": null}, "text": {"field": "t"}}
    },
    {
      "data": {"values": [{"t": "Recovered"}]},
      "mark": {"type": "text", "align": "left", "baseline": "alphabetic", "fontSize": 10.8, "color": "black"},
      "encoding": {"x": {"datum": -0.2394, "axis": null}, "y": {"datum": -25.5, "axis": null}, "text": {"field": "t"}}
    },
    {
      "data": {"values": [{"t": "-"}]},
      "mark": {"type": "text", "align": "center", "baseline": "alphabetic", "fontSize": 13.5, "color": "black"},
      "encoding": {"x": {"datum": 0.013, "axis": null}, "y": {"datum": -24.5, "axis": null}, "text": {"field": "t"}}
    },
    {
      "data": {"values": [{"t": "g"}]},
      "mark": {"type": "text", "align": "left", "baseline": "alphabetic", "fontSize": 14, "fontStyle": "italic", "color": "black"},
      "encoding": {"x": {"datum": 0.0413, "axis": null}, "y": {"datum": -24.5, "axis": null}, "text": {"field": "t"}}
    },
    {
      "data": {"values": [{"t": "Injected"}]},
      "mark": {"type": "text", "align": "left", "baseline": "alphabetic", "fontSize": 10.8, "color": "black"},
      "encoding": {"x": {"datum": 0.0752, "axis": null}, "y": {"datum": -25.5, "axis": null}, "text": {"field": "t"}}
    }
  ],
  "resolve": {"axis": {"x": "independent", "y": "independent"}}
}
]
}
